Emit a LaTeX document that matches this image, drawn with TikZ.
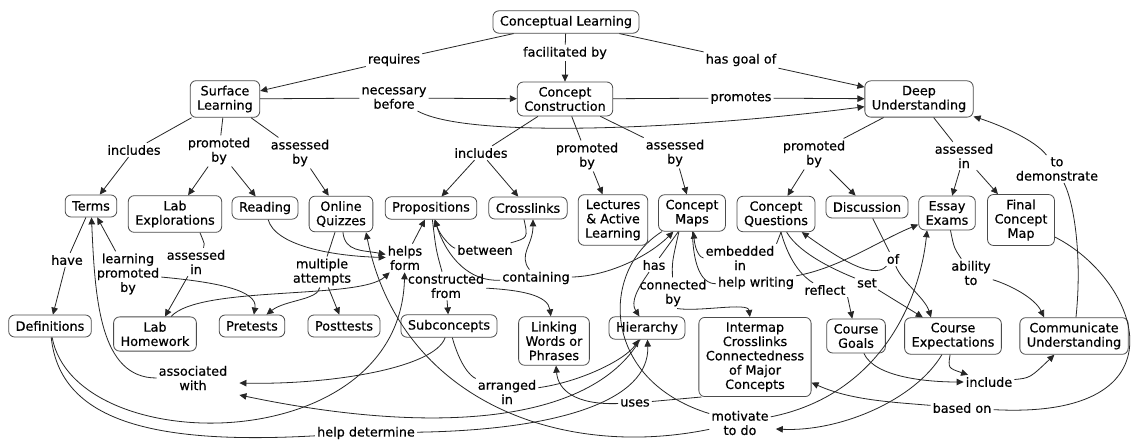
\documentclass[tikz,border=0pt]{standalone}
\usepackage{fontspec}
\setmainfont{DejaVu Sans}[FakeBold=0.5]
\usepackage{tikz}
\usetikzlibrary{arrows.meta, calc}

\begin{document}
\begin{tikzpicture}[x=1pt, y=-1pt,
    concept/.style={draw=black!70, line width=0.8pt, rounded corners=6pt, align=center,
        inner xsep=7pt, inner ysep=5pt, minimum height=22pt,
        font=\fontsize{12.8}{14.3}\selectfont},
    lbl/.style={align=center, inner sep=2pt, font=\fontsize{12.8}{14.3}\selectfont},
    con/.style={draw=black!85, line width=0.8pt},
    arr/.style={con, -{Triangle[length=7pt, width=6.5pt]}}]
    \path[use as bounding box, fill=white] (0,0) rectangle (1137,443);

    % Các khái niệm
    \node[concept] (cl) at (566,22) {Conceptual Learning};
    \node[concept] (sl) at (225,99) {Surface\\Learning};
    \node[concept] (cc) at (565,99) {Concept\\Construction};
    \node[concept] (du) at (919,99) {Deep\\Understanding};
    \node[concept] (terms) at (91,206) {Terms};
    \node[concept] (labex) at (175,214) {Lab\\Explorations};
    \node[concept] (reading) at (265,208) {Reading};
    \node[concept] (quizzes) at (341,214) {Online\\Quizzes};
    \node[concept] (props) at (431,208) {Propositions};
    \node[concept] (xlinks) at (528,208) {Crosslinks};
    \node[concept] (lectures) at (613,220) {Lectures\\\& Active\\Learning};
    \node[concept] (cmaps) at (692,213) {Concept\\Maps};
    \node[concept] (cq) at (776,214) {Concept\\Questions};
    \node[concept] (disc) at (867,207) {Discussion};
    \node[concept] (essay) at (947,213) {Essay\\Exams};
    \node[concept] (final) at (1021,220) {Final\\Concept\\Map};
    \node[concept] (defs) at (50,326) {Definitions};
    \node[concept] (labhw) at (155,334) {Lab\\Homework};
    \node[concept] (pretests) at (252,326) {Pretests};
    \node[concept] (posttests) at (344,326) {Posttests};
    \node[concept] (subc) at (449,326) {Subconcepts};
    \node[concept] (linking) at (554,341) {Linking\\Words or\\Phrases};
    \node[concept] (hier) at (647,328) {Hierarchy};
    \node[concept] (intermap) at (755,357) {Intermap\\Crosslinks\\Connectedness\\of Major\\Concepts};
    \node[concept] (goals) at (856,336) {Course\\Goals};
    \node[concept] (expect) at (953,336) {Course\\Expectations};
    \node[concept] (comm) at (1074,336) {Communicate\\Understanding};

    % Các từ nối
    \node[lbl] (requires) at (394,60) {requires};
    \node[lbl] (facil) at (565,53) {facilitated by};
    \node[lbl] (goalof) at (741,60) {has goal of};
    \node[lbl] (necessary) at (394,98) {necessary\\before};
    \node[lbl] (promotes) at (741,98) {promotes};
    \node[lbl] (slinc) at (134,150) {includes};
    \node[lbl] (slprom) at (219,151) {promoted\\by};
    \node[lbl] (slass) at (300,153) {assessed\\by};
    \node[lbl] (ccinc) at (481,153) {includes};
    \node[lbl] (ccprom) at (587,156) {promoted\\by};
    \node[lbl] (ccass) at (675,153) {assessed\\by};
    \node[lbl] (duprom) at (814,154) {promoted\\by};
    \node[lbl] (duass) at (964,156) {assessed\\in};
    \node[lbl] (demo) at (1057,169) {to\\demonstrate};
    \node[lbl] (have) at (67,260) {have};
    \node[lbl] (learnprom) at (128,274) {learning\\promoted\\by};
    \node[lbl] (assin) at (196,262) {assessed\\in};
    \node[lbl] (multi) at (322,272) {multiple\\attempts};
    \node[lbl] (helps) at (405,258) {helps\\form};
    \node[lbl] (constr) at (446,286) {constructed\\from};
    \node[lbl] (between) at (485,250) {between};
    \node[lbl] (containing) at (536,278) {containing};
    \node[lbl] (has) at (654,265) {has};
    \node[lbl] (connby) at (673,293) {connected\\by};
    \node[lbl] (embed) at (740,258) {embedded\\in};
    \node[lbl] (helpw) at (756,283) {help writing};
    \node[lbl] (reflect) at (825,290) {reflect};
    \node[lbl] (setl) at (867,283) {set};
    \node[lbl] (ofl) at (893,259) {of};
    \node[lbl] (ability) at (971,273) {ability\\to};
    \node[lbl] (assoc) at (193,378) {associated\\with};
    \node[lbl] (helpdet) at (366,433) {help determine};
    \node[lbl] (arranged) at (507,392) {arranged\\in};
    \node[lbl] (uses) at (635,403) {uses};
    \node[lbl] (motivate) at (740,423) {motivate\\to do};
    \node[lbl] (include) at (989,382) {include};
    \node[lbl] (basedon) at (962,408) {based on};

    % Liên kết phía trên
    \draw[con] (cl) -- (requires);
    \draw[arr] (requires) -- (sl);
    \draw[con] (cl) -- (facil);
    \draw[arr] (facil) -- (cc);
    \draw[con] (cl) -- (goalof);
    \draw[arr] (goalof) -- (du);
    \draw[con] (sl) -- (necessary);
    \draw[arr] (necessary) -- (cc);
    \draw[arr] (necessary) .. controls (470,140) and (700,128) .. (du.188);
    \draw[con] (cc) -- (promotes);
    \draw[arr] (promotes) -- (du);

    % Hàng thứ hai
    \draw[con] (sl) -- (slinc);
    \draw[arr] (slinc) -- (terms);
    \draw[con] (sl) -- (slprom);
    \draw[arr] (slprom) -- (labex);
    \draw[arr] (slprom) -- (reading);
    \draw[con] (sl) -- (slass);
    \draw[arr] (slass) -- (quizzes);
    \draw[con] (cc) -- (ccinc);
    \draw[arr] (ccinc) -- (props);
    \draw[arr] (ccinc) -- (xlinks);
    \draw[con] (cc) -- (ccprom);
    \draw[arr] (ccprom) -- (lectures);
    \draw[con] (cc) -- (ccass);
    \draw[arr] (ccass) -- (cmaps);
    \draw[con] (du) -- (duprom);
    \draw[arr] (duprom) -- (cq);
    \draw[arr] (duprom) -- (disc);
    \draw[con] (du) -- (duass);
    \draw[arr] (duass) -- (essay);
    \draw[arr] (duass) -- (final);
    \draw[con] (comm) .. controls (1082,260) and (1075,205) .. (demo);
    \draw[arr] (demo) .. controls (1035,140) and (1000,125) .. (du);

    % Bên trái
    \draw[con] (terms) -- (have);
    \draw[arr] (have) -- (defs);
    \draw[arr] (learnprom) -- (terms);
    \draw[arr] (learnprom) .. controls (215,282) and (258,290) .. (pretests);
    \draw[con] ([xshift=25pt]labex.south) .. controls (205,245) .. (assin);
    \draw[arr] (assin) -- (labhw);
    \draw[arr] (reading) .. controls (275,245) and (330,256) .. (helps);
    \draw[arr] (quizzes) .. controls (345,252) and (362,250) .. (helps);
    \draw[arr] (labhw) .. controls (200,285) and (360,300) .. (helps);
    \draw[arr] (defs) .. controls (75,460) and (400,460) .. (helps);
    \draw[arr] (helps) -- (props);
    \draw[con] (quizzes) -- (multi);
    \draw[arr] (multi) .. controls (318,300) and (285,300) .. (pretests);
    \draw[arr] (multi) -- (posttests);

    % Ở giữa
    \draw[con] (props) .. controls (436,250) .. (constr);
    \draw[arr] (constr) -- (subc);
    \draw[arr] (constr) .. controls (520,290) and (548,295) .. (linking);
    \draw[con] ([xshift=-4pt]xlinks.south) .. controls (528,238) .. (between);
    \draw[arr] (between) .. controls (452,248) and (440,236) .. (props);
    \draw[arr] (containing) .. controls (610,276) and (650,255) .. (cmaps);
    \draw[arr] (containing) .. controls (470,282) and (447,258) .. (props);
    \draw[arr] (containing) .. controls (518,255) and (533,245) .. ([xshift=5pt]xlinks.south);
    \draw[con] (cmaps) -- (has);
    \draw[arr] (has) .. controls (638,288) and (630,302) .. (hier);
    \draw[con] (cmaps.-125) .. controls (672,262) .. (connby);
    \draw[arr] (connby.-75) .. controls (700,312) and (748,302) .. (intermap);
    \draw[con] ([xshift=5pt]cq.south) -- (embed.north east);
    \draw[arr] (embed) .. controls (700,258) and (695,250) .. (cmaps);
    \draw[con] (helpw) .. controls (700,284) and (693,262) .. (cmaps);
    \draw[arr] (helpw) .. controls (840,268) and (880,240) .. (essay);

    % Bên phải
    \draw[con] (cq) .. controls (790,265) and (805,278) .. (reflect);
    \draw[arr] (reflect.south east) -- (goals);
    \draw[con] (cq) .. controls (800,255) and (840,272) .. (setl);
    \draw[arr] (setl) -- (expect);
    \draw[con] (disc) -- (ofl);
    \draw[arr] (ofl) .. controls (902,282) and (925,298) .. ([xshift=-22pt]expect.north);
    \draw[arr] (ofl) .. controls (872,282) and (830,252) .. (cq);
    \draw[con] (essay) .. controls (954,248) .. (ability);
    \draw[arr] (ability) .. controls (1010,285) and (1035,298) .. ([xshift=-30pt]comm.north);
    \draw[arr] (goals) .. controls (875,378) and (930,382) .. (include);
    \draw[arr] (expect) .. controls (948,368) .. (include);
    \draw[arr] (include) .. controls (1030,378) .. (comm);
    \draw[con] (final) .. controls (1140,280) and (1190,420) .. (basedon);
    \draw[arr] (basedon) .. controls (890,402) and (850,400) .. (intermap);

    % Phía dưới
    \draw[arr] (assoc) .. controls (100,378) and (95,300) .. (terms);
    \draw[arr] (subc) .. controls (435,368) and (330,385) .. ($(assoc.east)+(10,5)$);
    \draw[arr] (hier) .. controls (590,425) and (430,435) .. ($(assoc.east)+(10,17)$);
    \draw[con] (subc) .. controls (460,365) and (470,376) .. (arranged);
    \draw[arr] (arranged) .. controls (580,382) and (625,360) .. (hier);
    \draw[con] (defs) .. controls (60,420) and (150,445) .. (helpdet);
    \draw[arr] (helpdet) .. controls (560,430) and (650,400) .. (hier);
    \draw[con] ([xshift=3pt]intermap.south west) -- (uses);
    \draw[arr] (uses) .. controls (575,405) and (558,390) .. (linking);
    \draw[con] (cmaps) .. controls (600,270) and (600,380) .. (motivate);
    \draw[arr] (motivate) .. controls (880,395) and (920,300) .. ([xshift=-20pt]essay.south);
    \draw[arr] (expect) .. controls (915,400) and (840,432) .. ($(motivate.east)+(5,6)$);
    \draw[arr] (motivate) .. controls (560,460) and (400,400) .. ([xshift=25pt]quizzes.south);
\end{tikzpicture}
\end{document}
